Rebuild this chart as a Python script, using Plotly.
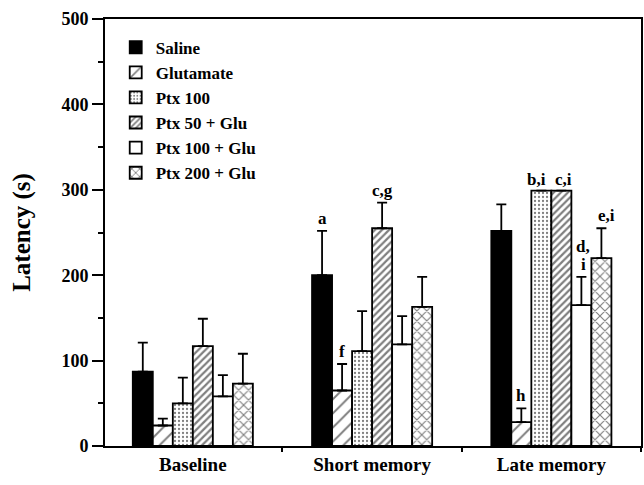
import plotly.graph_objects as go

groups = ["Baseline", "Short memory", "Late memory"]
series = ["Saline", "Glutamate", "Ptx 100", "Ptx 50 + Glu", "Ptx 100 + Glu", "Ptx 200 + Glu"]

saline = [87, 200, 252]
glutamate = [24, 65, 28]
ptx100 = [50, 111, 299]
ptx50_glu = [117, 255, 299]
ptx100_glu = [58, 119, 165]
ptx200_glu = [73, 163, 220]

saline_err = [34, 52, 31]
glutamate_err = [8, 31, 16]
ptx100_err = [30, 47, 0]
ptx50_glu_err = [32, 30, 0]
ptx100_glu_err = [25, 33, 33]
ptx200_glu_err = [35, 35, 35]

values = [saline, glutamate, ptx100, ptx50_glu, ptx100_glu, ptx200_glu]
errors = [saline_err, glutamate_err, ptx100_err, ptx50_glu_err, ptx100_glu_err, ptx200_glu_err]

# significance letters: group index, series index, text, lift / shift in px
sig_group = [1, 1, 1, 2, 2, 2, 2, 2, 2]
sig_series = [0, 1, 3, 1, 2, 3, 4, 4, 5]
sig_text = ["a", "f", "c,g", "h", "b,i", "c,i", "i", "d,", "e,i"]
sig_lift = [1, 1, 1, 1, 0, 0, 1, 19, 1]
sig_dx = [0, 0, 0, 0, -5, 2, 2, 2, 5]

patterns = [
    dict(shape="", fillmode="replace"),
    dict(shape="/", size=10, solidity=0.2, fgcolor="black", bgcolor="white"),
    dict(shape=".", size=4, solidity=0.25, fgcolor="black", bgcolor="white"),
    dict(shape="/", size=5, solidity=0.45, fgcolor="black", bgcolor="white"),
    dict(shape="", fillmode="replace"),
    dict(shape="x", size=7, solidity=0.3, fgcolor="black", bgcolor="white"),
]
colors = ["black", "white", "white", "white", "white", "white"]

FONT = "Liberation Serif"
fig = go.Figure()
for i, name in enumerate(series):
    fig.add_trace(go.Bar(
        name=name, x=groups, y=values[i],
        marker=dict(color=colors[i], line=dict(color="black", width=1.8), pattern=patterns[i]),
        error_y=dict(type="data", symmetric=False, array=errors[i], arrayminus=[0] * len(groups),
                     color="black", thickness=1.8, width=5),
    ))

bargap = 0.33
n = len(series)
bw = (1 - bargap) / n
for g, s, t, lift, dx in zip(sig_group, sig_series, sig_text, sig_lift, sig_dx):
    xpos = g + (s - (n - 1) / 2) * bw
    ytop = values[s][g] + errors[s][g]
    fig.add_annotation(x=xpos, y=ytop, text=t, showarrow=False, yanchor="bottom",
                       yshift=lift, xshift=dx,
                       font=dict(family=FONT, size=17, color="black", weight="bold"))

fig.update_layout(
    width=644, height=485,
    margin=dict(l=105, r=1, t=19, b=39),
    paper_bgcolor="white", plot_bgcolor="white",
    barmode="group", bargap=bargap, bargroupgap=0,
    font=dict(family=FONT, color="black", size=17, weight="bold"),
    showlegend=True,
    legend=dict(x=0.02, y=0.975, xanchor="left", yanchor="top", bgcolor="rgba(0,0,0,0)",
                font=dict(family=FONT, size=17, weight="bold"), traceorder="normal"),
)
fig.update_xaxes(
    type="category", range=[-0.49, 2.5],
    showline=True, linecolor="black", linewidth=2, mirror=True,
    ticks="outside", ticklen=4, tickwidth=1.5, tickcolor="black", tickson="boundaries",
    tickfont=dict(family=FONT, size=19, weight="bold"), showgrid=False,
)
fig.update_yaxes(
    range=[0, 500], dtick=100, showline=True, linecolor="black", linewidth=2, mirror=True,
    ticks="outside", ticklen=11, tickwidth=1.5, tickcolor="black", showgrid=False, zeroline=False,
    minor=dict(dtick=50, ticks="outside", ticklen=5, tickwidth=1.5, tickcolor="black", showgrid=False),
    tickfont=dict(family=FONT, size=18, weight="bold"),
    title=dict(text="Latency (s)", font=dict(family=FONT, size=25, weight="bold"), standoff=24),
)

fig.write_html("out.html")
